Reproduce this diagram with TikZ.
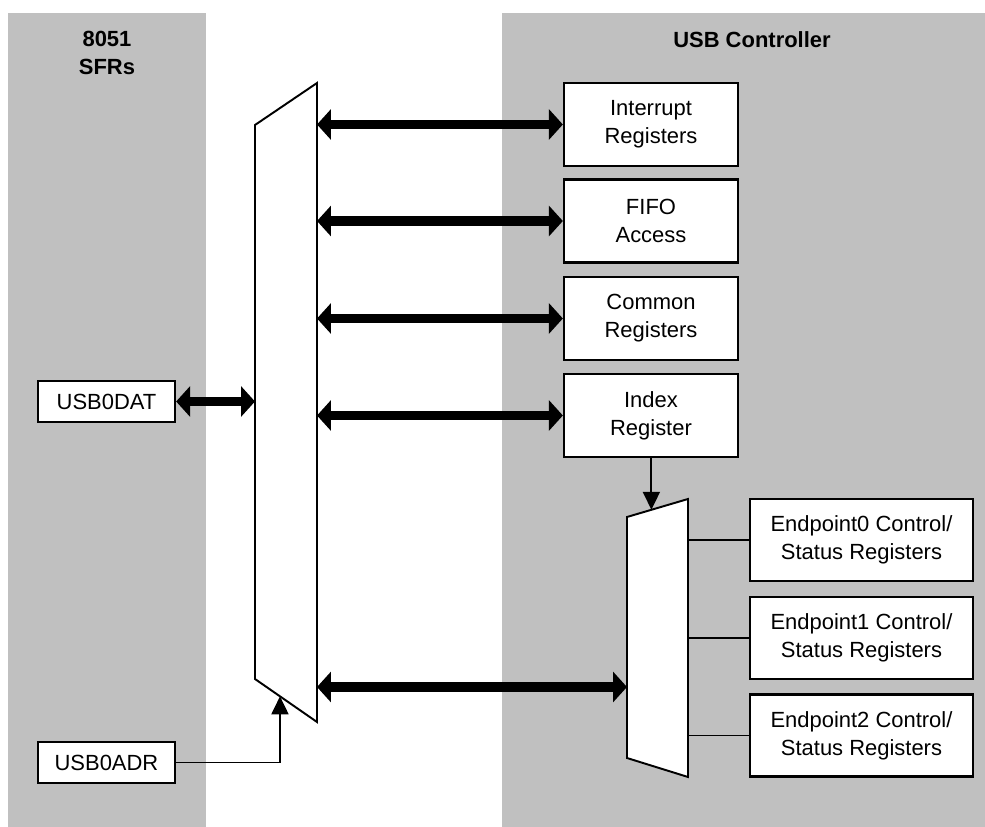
\documentclass[tikz,border=0pt]{standalone}
\usepackage{fontspec}
\setmainfont{Liberation Sans}
\usepackage{tikz}
\usetikzlibrary{arrows.meta,calc}
\definecolor{panelgray}{RGB}{192,192,192}

\begin{document}
\begin{tikzpicture}[x=0.02cm,y=-0.02cm,
  font=\fontsize{12.5}{16}\selectfont,
  panel/.style={fill=panelgray,draw=none},
  regbox/.style={draw,fill=white,line width=1.3pt,align=center,
    minimum width=3.48cm,minimum height=1.66cm,inner sep=0pt},
  epbox/.style={regbox,minimum width=4.46cm,minimum height=1.64cm},
  sfrbox/.style={regbox,minimum width=2.74cm,minimum height=0.82cm},
  muxshape/.style={draw,fill=white,line width=1.1pt},
  bus/.style={line width=5.6pt,{Triangle[length=0.28cm,width=0.6cm]}-{Triangle[length=0.28cm,width=0.6cm]}},
  wire/.style={line width=1.1pt},
  wireto/.style={wire,-{Triangle[length=0.36cm,width=0.34cm]}}]
\useasboundingbox (0,0) rectangle (985,827);
\fill[panel] (7.5,13) rectangle (206,827);
\fill[panel] (502,13) rectangle (985,827);
\node[align=center,font=\fontsize{12.5}{16}\selectfont\bfseries] (sfrtitle) at (107,53) {8051\\SFRs};
\node[font=\fontsize{12.5}{16}\selectfont\bfseries] (usbtitle) at (752,40) {USB Controller};

% big mux
\coordinate (mtl) at (255,125);
\coordinate (mtr) at (317,83);
\coordinate (mbr) at (317,722);
\coordinate (mbl) at (255,679);
\draw[muxshape] (mtl) -- (mtr) -- (mbr) -- (mbl) -- cycle;
% small mux
\coordinate (stl) at (627,517);
\coordinate (str) at (688,499);
\coordinate (sbr) at (688,777);
\coordinate (sbl) at (627,758);
\draw[muxshape] (stl) -- (str) -- (sbr) -- (sbl) -- cycle;

\node[regbox] (intreg) at (651,124.5) {Interrupt\\Registers};
\node[regbox] (fifo) at (651,221) {FIFO\\Access};
\node[regbox] (common) at (651,318.5) {Common\\Registers};
\node[regbox] (index) at (651,415.5) {Index\\Register};
\node[epbox] (ep0) at (861.5,540) {Endpoint0 Control/\\Status Registers};
\node[epbox] (ep1) at (861.5,638) {Endpoint1 Control/\\Status Registers};
\node[epbox] (ep2) at (861.5,735.5) {Endpoint2 Control/\\Status Registers};
\node[sfrbox] (usbdat) at (106.5,401.5) {USB0DAT};
\node[sfrbox] (usbadr) at (106.5,762.5) {USB0ADR};

\draw[bus] (mtr |- intreg.west) -- (intreg.west);
\draw[bus] (mtr |- fifo.west) -- (fifo.west);
\draw[bus] (mtr |- common.west) -- (common.west);
\draw[bus] (mtr |- index.west) -- (index.west);
\draw[bus] (usbdat.east) -- (usbdat.east -| mtl);
\coordinate (epbus) at (317,687);
\draw[bus] (epbus) -- (epbus -| stl);

\coordinate (adrin) at ($(mbl)!0.403!(mbr)$);
\draw[wireto] (usbadr.east) -| (adrin);
\coordinate (idxin) at ($(stl)!0.4!(str)$);
\draw[wireto] (index.south -| idxin) -- (idxin);
\foreach \ep in {ep0,ep1,ep2}
  \draw[wire] (\ep.west -| str) -- (\ep.west);
\end{tikzpicture}
\end{document}
